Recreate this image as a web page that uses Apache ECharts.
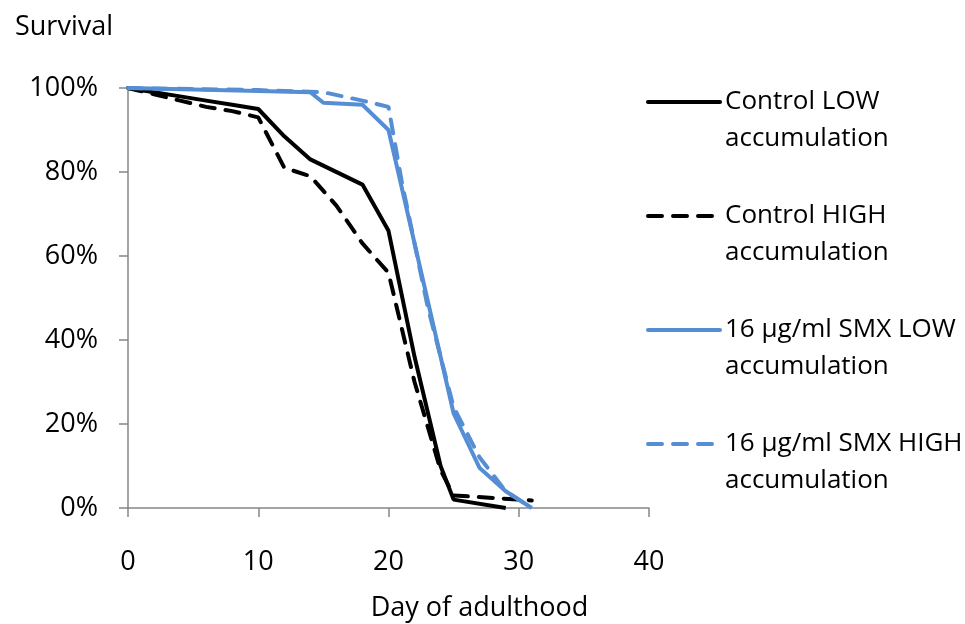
<!DOCTYPE html>
<html>
<head>
<meta charset="utf-8">
<script src="https://cdn.jsdelivr.net/npm/echarts@6/dist/echarts.min.js"></script>
<style>
  html, body { margin: 0; padding: 0; background: #fff; }
  #chart { width: 965px; height: 624px; }
</style>
</head>
<body>
<div id="chart"></div>
<script>
// survival data (day, % alive)
const controlLowDays = [0, 2, 4, 6, 8, 10, 12, 14, 18, 20, 22, 24, 25, 29];
const controlLow = [100, 99, 98, 97, 96, 95, 88.5, 83, 77, 66, 36, 10, 2, 0];

const controlHighDays = [0, 2, 4, 6, 8, 10, 12, 14, 16, 18, 20, 22, 24, 25, 31];
const controlHigh = [100, 98.5, 97, 95.5, 94.5, 93, 81, 79, 72, 63, 56, 30, 9, 3, 1.8];

const smxLowDays = [0, 10, 14, 15, 18, 20, 25, 27, 29, 31];
const smxLow = [100, 99.3, 99, 96.5, 96, 90, 22.5, 9.5, 4, 0];

const smxHighDays = [0, 10, 15, 18, 20, 21, 23, 25, 27, 29, 31];
const smxHigh = [100, 99.5, 99, 97, 95.5, 78, 48, 24, 12, 4, 0];

const seriesNames = [
  "Control LOW\naccumulation",
  "Control HIGH\naccumulation",
  "16 µg/ml SMX LOW\naccumulation",
  "16 µg/ml SMX HIGH\naccumulation"
];
const xTicks = [0, 10, 20, 30, 40];
const yTicks = [0, 20, 40, 60, 80, 100];

const FONT = "Open Sans";
const BLUE = "#558ED5";
const dash = [14, 11];
const LW = 4;

function pairs(days, vals) {
  return days.map((d, i) => [d, vals[i]]);
}

const chart = echarts.init(document.getElementById("chart"));
chart.setOption({
  animation: false,
  textStyle: { fontFamily: FONT },
  title: {
    text: "Survival",
    left: 10,
    top: 9,
    textStyle: { fontFamily: FONT, fontSize: 27, fontWeight: "normal", color: "#000" }
  },
  grid: { left: 128, right: 316, top: 88, bottom: 116, containLabel: false, outerBoundsMode: "none" },
  legend: {
    orient: "vertical",
    left: 641,
    top: 55,
    itemWidth: 72,
    itemHeight: 14,
    itemGap: 22,
    data: seriesNames,
    itemStyle: { opacity: 0 },
    lineStyle: { width: LW, cap: "round" },
    // empty first line pushes the first text line level with the sample line
    formatter: (name) => "{e| }\n" + name.split("\n").map((s) => "{t|" + s + "}").join("\n"),
    textStyle: {
      fontFamily: FONT, fontSize: 26, color: "#000",
      rich: {
        e: { lineHeight: 37, fontSize: 10 },
        t: { fontFamily: FONT, fontSize: 26, color: "#000", lineHeight: 37 }
      }
    }
  },
  xAxis: {
    type: "value",
    min: xTicks[0],
    max: xTicks[xTicks.length - 1],
    interval: 10,
    name: "Day of adulthood",
    nameLocation: "middle",
    nameGap: 87,
    nameTextStyle: { fontFamily: FONT, fontSize: 27, color: "#000", padding: [0, 0, 0, 182] },
    splitLine: { show: false },
    axisLine: { lineStyle: { color: "#868686", width: 1.5 } },
    axisTick: { show: true, length: 9, lineStyle: { color: "#868686", width: 1.5 } },
    axisLabel: { fontFamily: FONT, fontSize: 27, color: "#000", margin: 41 }
  },
  yAxis: {
    type: "value",
    min: yTicks[0],
    max: yTicks[yTicks.length - 1],
    interval: 20,
    splitLine: { show: false },
    axisLine: { show: true, lineStyle: { color: "#868686", width: 1.5 } },
    axisTick: { show: true, length: 9, lineStyle: { color: "#868686", width: 1.5 } },
    axisLabel: { fontFamily: FONT, fontSize: 27, color: "#000", margin: 30, formatter: "{value}%" }
  },
  series: [
    {
      name: seriesNames[0], type: "line", symbol: "none",
      data: pairs(controlLowDays, controlLow),
      lineStyle: { color: "#000", width: LW },
      itemStyle: { color: "#000" }
    },
    {
      name: seriesNames[1], type: "line", symbol: "none",
      data: pairs(controlHighDays, controlHigh),
      lineStyle: { color: "#000", width: LW, type: dash, cap: "round" },
      itemStyle: { color: "#000" }
    },
    {
      name: seriesNames[2], type: "line", symbol: "none",
      data: pairs(smxLowDays, smxLow),
      lineStyle: { color: BLUE, width: LW },
      itemStyle: { color: BLUE }
    },
    {
      name: seriesNames[3], type: "line", symbol: "none",
      data: pairs(smxHighDays, smxHigh),
      lineStyle: { color: BLUE, width: LW, type: dash, cap: "round" },
      itemStyle: { color: BLUE }
    }
  ]
});

window.addEventListener("resize", () => chart.resize());
</script>
</body>
</html>
